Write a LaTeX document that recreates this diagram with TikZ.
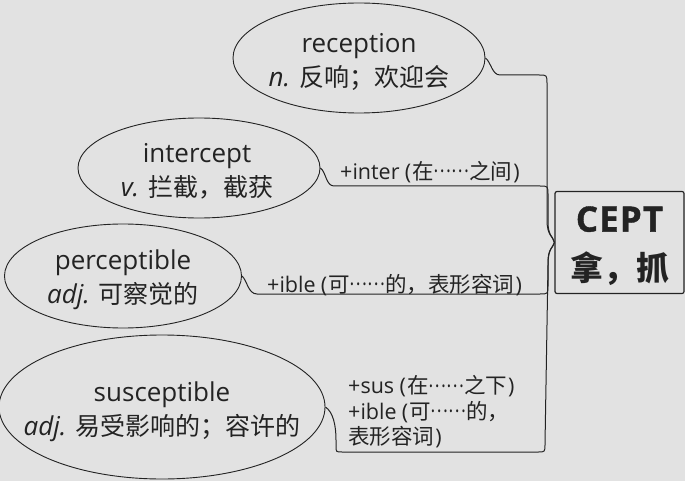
\documentclass[tikz,border=0pt]{standalone}
\usepackage{fontspec}
\setmainfont{Open Sans}
\newfontfamily\cjk{Noto Sans CJK SC}
\usetikzlibrary{shapes.geometric}
\definecolor{bg}{RGB}{226,226,226}
\definecolor{ink}{RGB}{35,35,35}
\newcommand\zlp{\hspace{0.25em}(\hspace{0.05em}}
\newcommand\zrp{\hspace{0.05em})}
\newcommand\zdots{\raisebox{0.32em}{\scalebox{0.78}[1]{\cjk ……}}}
\newcommand\zh[1]{{\cjk\fontsize{25}{34}\selectfont #1}}
\begin{document}
\begin{tikzpicture}[x=1pt,y=-1pt,
  word/.style={ellipse, draw=ink, line width=0.9pt, inner sep=0pt},
  wtext/.style={inner sep=0pt, text=ink, align=center, font=\fontsize{26}{34}\selectfont},
  conn/.style={draw=ink, line width=1pt},
  lab/.style={anchor=west, inner sep=0pt, text=ink, align=left, font=\fontsize{21.5}{25.5}\selectfont},
  root/.style={draw=ink, line width=1.2pt, rounded corners=2pt, inner sep=0pt},
  roottext/.style={inner sep=0pt, text=ink, align=center, font=\fontsize{33}{49}\selectfont\bfseries}]
\fill[bg] (0,0) rectangle (685,481);
\useasboundingbox (0,0) rectangle (685,481);

\node[root, minimum width=129pt, minimum height=102pt] (cept) at (619.5,242.5) {};
\node[roottext] (ceptt) at (619.5,246) {{\fontsize{35}{49}\selectfont\addfontfeature{LetterSpace=3,FakeBold=1}CEPT}\\{\cjk 拿，抓}};

\node[word, minimum width=252pt, minimum height=110pt] (rec) at (359,58) {};
\node[word, minimum width=242pt, minimum height=100pt] (int) at (199,168) {};
\node[word, minimum width=237pt, minimum height=104pt] (per) at (123,276) {};
\node[word, minimum width=326pt, minimum height=144pt] (sus) at (162,407) {};

\node[wtext] (rect) at (359,62) {reception\\{\itshape n.} \zh{反响；欢迎会}};
\node[wtext] (intt) at (197,171) {intercept\\{\itshape v.} \zh{拦截，截获}};
\node[wtext] (pert) at (123,280) {perceptible\\{\itshape adj.} \zh{可察觉的}};
\node[wtext] (sust) at (162,412) {susceptible\\{\itshape adj.} \zh{易受影响的；容许的}};

\node[lab] (lint) at (340,172) {+inter\zlp{\cjk 在}\zdots{\cjk 之间}\zrp};
\node[lab] (lper) at (267,285) {+ible\zlp{\cjk 可}\zdots{\cjk 的，表形容词}\zrp};
\node[lab] (lsus) at (348,412) {+sus\zlp{\cjk 在}\zdots{\cjk 之下}\zrp\\+ible\zlp{\cjk 可}\zdots{\cjk 的，}\\{\cjk 表形容词}\zrp};

\draw[conn] (rec.east) .. controls (491,62) and (492,75) .. (500,75) -- (539,75)
  .. controls (547,75) .. (547,84) -- (547,220) .. controls (547,236) and (553,236) .. (cept.west);
\draw[conn] (int.east) .. controls (326,172) and (326,186) .. (334,186) -- (540,186)
  .. controls (548,186) .. (548,195) -- (548,222) .. controls (548,236) and (553,236) .. (cept.west);
\draw[conn] (per.east) .. controls (247,280) and (248,294) .. (257,294) -- (540,294)
  .. controls (548,294) .. (548,285) -- (548,262) .. controls (548,248) and (553,248) .. (cept.west);
\draw[conn] (sus.east) .. controls (333,412) and (336,425) .. (336,440) -- (336,446)
  .. controls (336,452) .. (342,452) -- (538,452)
  .. controls (545,452) .. (545,444) -- (548,265) .. controls (548,248) and (553,248) .. (cept.west);
\end{tikzpicture}
\end{document}
